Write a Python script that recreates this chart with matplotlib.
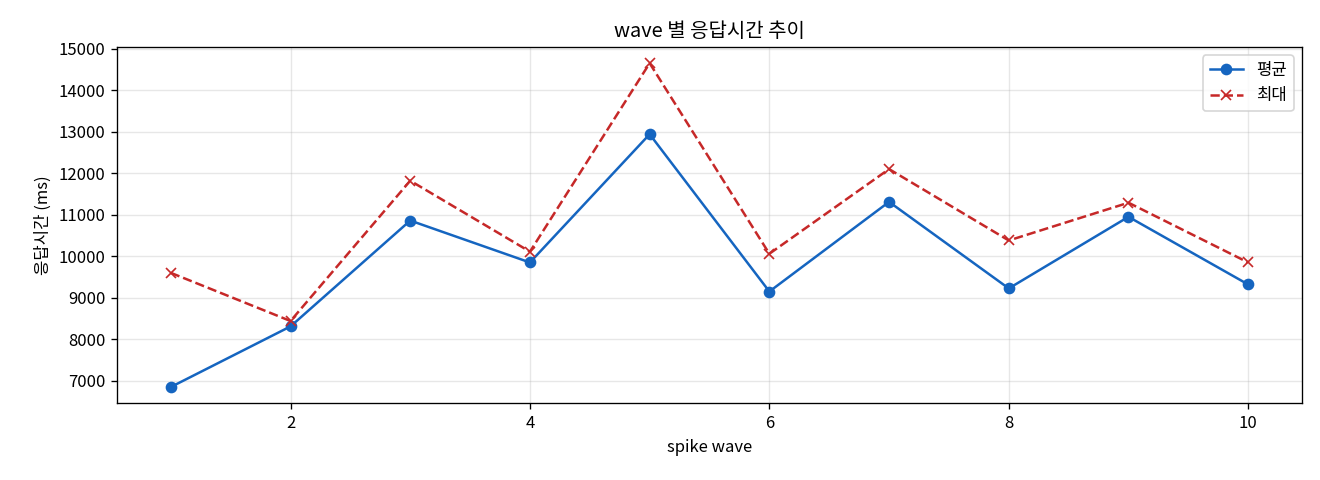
import matplotlib
matplotlib.use('Agg')
import matplotlib.pyplot as plt

plt.rcParams['font.family'] = ['Noto Sans CJK KR', 'DejaVu Sans']
plt.rcParams['axes.unicode_minus'] = False

waves = [1, 2, 3, 4, 5, 6, 7, 8, 9, 10]
avg_ms = [6850, 8310, 10860, 9850, 12940, 9150, 11310, 9225, 10950, 9320]
max_ms = [9600, 8440, 11820, 10110, 14650, 10060, 12100, 10380, 11290, 9850]

fig, ax = plt.subplots(figsize=(11, 4), dpi=120)
ax.plot(waves, avg_ms, marker='o', color='#1565C0', label='평균')
ax.plot(waves, max_ms, marker='x', linestyle='--', color='#C62828', label='최대')
ax.set_title('wave 별 응답시간 추이')
ax.set_xlabel('spike wave')
ax.set_ylabel('응답시간 (ms)')
ax.grid(True, alpha=0.3)
ax.legend(loc='upper right')
fig.subplots_adjust(left=0.0886, right=0.9864, top=0.902, bottom=0.160)
fig.savefig('out.png')
